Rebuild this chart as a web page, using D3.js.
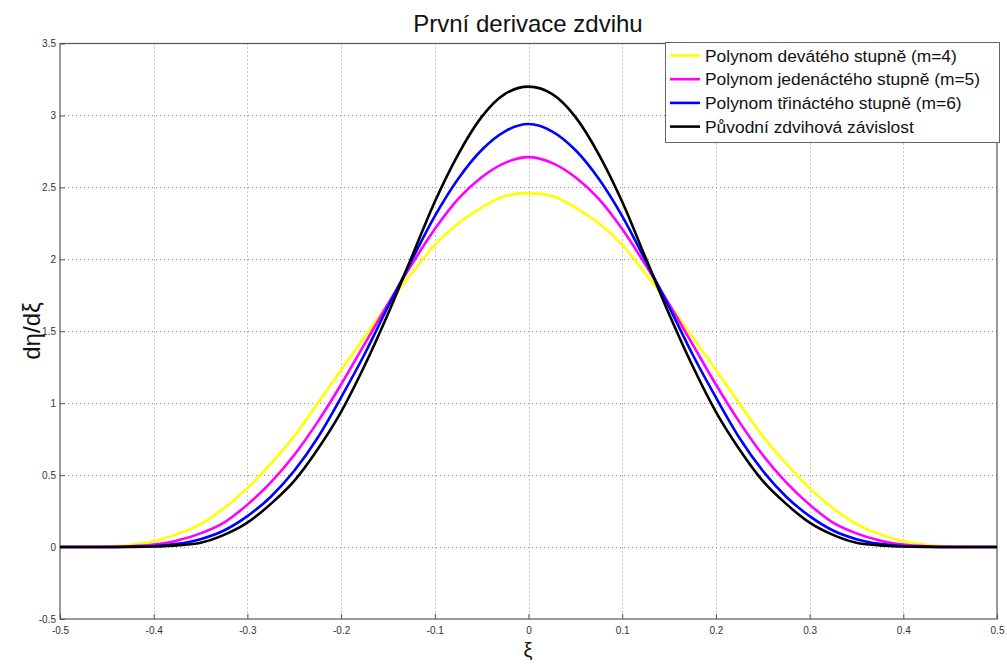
<!DOCTYPE html>
<html>
<head>
<meta charset="utf-8">
<script src="https://cdn.jsdelivr.net/npm/d3@7"></script>
<style>
  html, body { margin: 0; padding: 0; background: #fff; }
  svg { display: block; font-family: "Liberation Sans", Arial, sans-serif; }
</style>
</head>
<body>
<svg id="chart" width="1007" height="664"></svg>
<script>
// Sample positions along ξ
const xi = [-0.5, -0.475, -0.45, -0.425, -0.4, -0.375, -0.35, -0.325, -0.3, -0.275,
            -0.25, -0.225, -0.2, -0.175, -0.15, -0.125, -0.1, -0.075, -0.05, -0.025,
            0,
            0.025, 0.05, 0.075, 0.1, 0.125, 0.15, 0.175, 0.2, 0.225, 0.25,
            0.275, 0.3, 0.325, 0.35, 0.375, 0.4, 0.425, 0.45, 0.475, 0.5];

// dη/dξ for each lift law
const poly9 = [0, 0, 0.003, 0.015, 0.04, 0.09, 0.16, 0.27, 0.41, 0.58,
               0.77, 1.00, 1.23, 1.46, 1.69, 1.90, 2.10, 2.25, 2.36, 2.44,
               2.46,
               2.44, 2.36, 2.25, 2.10, 1.90, 1.69, 1.46, 1.23, 1.00, 0.77,
               0.58, 0.41, 0.27, 0.16, 0.09, 0.04, 0.015, 0.003, 0, 0];
const poly11 = [0, 0, 0.001, 0.005, 0.017, 0.045, 0.095, 0.17, 0.295, 0.45,
                0.64, 0.87, 1.13, 1.41, 1.69, 1.96, 2.21, 2.42, 2.57, 2.67,
                2.71,
                2.67, 2.57, 2.42, 2.21, 1.96, 1.69, 1.41, 1.13, 0.87, 0.64,
                0.45, 0.295, 0.17, 0.095, 0.045, 0.017, 0.005, 0.001, 0, 0];
const poly13 = [0, 0, 0, 0.002, 0.007, 0.022, 0.055, 0.115, 0.215, 0.35,
                0.53, 0.76, 1.04, 1.34, 1.67, 1.99, 2.30, 2.56, 2.76, 2.89,
                2.94,
                2.89, 2.76, 2.56, 2.30, 1.99, 1.67, 1.34, 1.04, 0.76, 0.53,
                0.35, 0.215, 0.115, 0.055, 0.022, 0.007, 0.002, 0, 0, 0];
const original = [0, 0, 0, 0.001, 0.004, 0.012, 0.03, 0.085, 0.17, 0.30,
                  0.46, 0.68, 0.94, 1.26, 1.62, 2.01, 2.40, 2.73, 2.99, 3.15,
                  3.20,
                  3.15, 2.99, 2.73, 2.40, 2.01, 1.62, 1.26, 0.94, 0.68, 0.46,
                  0.30, 0.17, 0.085, 0.03, 0.012, 0.004, 0.001, 0, 0, 0];

const seriesNames = [
  "Polynom devátého stupně (m=4)",
  "Polynom jedenáctého stupně (m=5)",
  "Polynom třináctého stupně (m=6)",
  "Původní zdvihová závislost"
];
const seriesColors = ["#ffff00", "#ff00ff", "#0000ff", "#000000"];
const seriesValues = [poly9, poly11, poly13, original];

const xTicks = [-0.5, -0.4, -0.3, -0.2, -0.1, 0, 0.1, 0.2, 0.3, 0.4, 0.5];
const yTicks = [-0.5, 0, 0.5, 1, 1.5, 2, 2.5, 3, 3.5];

const titleText = "První derivace zdvihu";
const xLabel = "ξ";
const yLabel = "dη/dξ";

// Layout
const plot = { left: 60, right: 997, top: 43.5, bottom: 619 };
const svg = d3.select("#chart");

const x = d3.scaleLinear().domain([-0.5, 0.5]).range([plot.left, plot.right]);
const y = d3.scaleLinear().domain([-0.5, 3.5]).range([plot.bottom, plot.top]);

// Dotted grid
const grid = svg.append("g").attr("stroke", "#8a8a8a").attr("stroke-width", 1)
  .attr("stroke-dasharray", "1,3");
grid.selectAll(".gx").data(xTicks.slice(1, -1)).join("line")
  .attr("x1", d => Math.round(x(d)) + 0.5).attr("x2", d => Math.round(x(d)) + 0.5)
  .attr("y1", plot.top).attr("y2", plot.bottom);
grid.selectAll(".gy").data(yTicks.slice(1, -1)).join("line")
  .attr("y1", d => Math.round(y(d)) + 0.5).attr("y2", d => Math.round(y(d)) + 0.5)
  .attr("x1", plot.left).attr("x2", plot.right);

// Axes
const fmt = d => String(+d.toFixed(1));
const xAxis = d3.axisBottom(x).tickValues(xTicks).tickSize(-5).tickPadding(8).tickFormat(fmt);
const yAxis = d3.axisLeft(y).tickValues(yTicks).tickSize(-5).tickPadding(4).tickFormat(fmt);

const gx = svg.append("g").attr("transform", `translate(0,${plot.bottom})`).call(xAxis);
const gy = svg.append("g").attr("transform", `translate(${plot.left},0)`).call(yAxis);
[gx, gy].forEach(g => {
  g.select(".domain").remove();
  g.selectAll(".tick line").attr("stroke", "#555");
  g.selectAll(".tick text").attr("fill", "#333").attr("font-size", 10)
    .attr("font-family", "Liberation Sans, Arial, sans-serif");
});

// Box around plot
svg.append("rect")
  .attr("x", plot.left).attr("y", plot.top)
  .attr("width", plot.right - plot.left).attr("height", plot.bottom - plot.top)
  .attr("fill", "none").attr("stroke", "#555").attr("stroke-width", 1.2);

// Curves
const line = d3.line()
  .x((d, i) => x(xi[i]))
  .y(d => y(d))
  .curve(d3.curveMonotoneX);

svg.append("clipPath").attr("id", "plotclip").append("rect")
  .attr("x", plot.left).attr("y", plot.top)
  .attr("width", plot.right - plot.left).attr("height", plot.bottom - plot.top);

svg.append("g").attr("clip-path", "url(#plotclip)")
  .selectAll("path").data(seriesValues).join("path")
  .attr("d", d => line(d))
  .attr("fill", "none")
  .attr("stroke", (d, i) => seriesColors[i])
  .attr("stroke-width", 2.6)
  .attr("stroke-linejoin", "round");

// Title and axis labels
svg.append("text").attr("x", 528).attr("y", 32).attr("text-anchor", "middle")
  .attr("font-size", 24).attr("fill", "#111").text(titleText);
svg.append("text").attr("x", 528).attr("y", 657).attr("text-anchor", "middle")
  .attr("font-size", 20).attr("fill", "#111").text(xLabel);
svg.append("text").attr("transform", "translate(40,331) rotate(-90)")
  .attr("text-anchor", "middle").attr("font-size", 24).attr("fill", "#111").text(yLabel);

// Legend
const lg = svg.append("g");
lg.append("rect").attr("x", 665.5).attr("y", 42.5).attr("width", 334).attr("height", 100)
  .attr("fill", "#fff").attr("stroke", "#666").attr("stroke-width", 1);
seriesNames.forEach((name, i) => {
  const cy = 55.5 + i * 23.7;
  lg.append("line").attr("x1", 670).attr("x2", 700).attr("y1", cy).attr("y2", cy)
    .attr("stroke", seriesColors[i]).attr("stroke-width", 2.6);
  lg.append("text").attr("x", 705).attr("y", cy + 6).attr("font-size", 17.4)
    .attr("fill", "#111").text(name);
});
</script>
</body>
</html>
